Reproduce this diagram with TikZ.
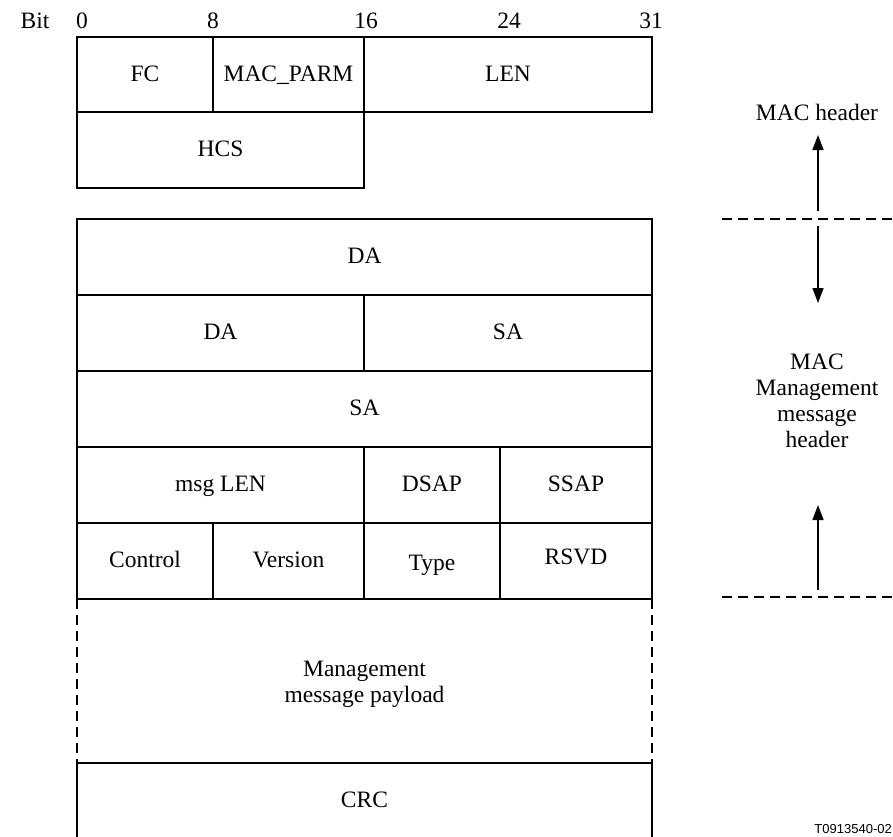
\documentclass[tikz,border=0pt]{standalone}
\usepackage{fontspec}
\setmainfont{Liberation Serif}
\newfontfamily\tagfont{Liberation Sans}
\usetikzlibrary{arrows.meta}
\begin{document}
\begin{tikzpicture}[x=1pt,y=-1pt,
  field/.style={draw, line width=1.5pt, inner sep=0pt, outer sep=0pt,
    text height=16pt, text depth=2.4pt,
    font=\fontsize{23.5}{26}\selectfont, align=center},
  lbl/.style={inner sep=0pt, font=\fontsize{23.5}{26}\selectfont, align=center},
  span/.style={-{Triangle[width=11pt,length=15pt]}, line width=1.5pt},
  sep/.style={dash pattern=on 10pt off 6pt, line width=1.5pt}]
\useasboundingbox (0,0) rectangle (893,836);
\clip (0,0) rectangle (893,836);

% bit ruler
\node[lbl] (bit) at (35,21) {Bit};
\node[lbl] (b0)  at (82,21) {0};
\node[lbl] (b8)  at (213,21) {8};
\node[lbl] (b16) at (366,21) {16};
\node[lbl] (b24) at (509,21) {24};
\node[lbl] (b31) at (651,21) {31};

% MAC header fields
\node[field, minimum width=136pt, minimum height=75pt] (fc)   at (145,74.5) {FC};
\node[field, minimum width=151pt, minimum height=75pt] (parm) at (288.5,74.5) {MAC\_PARM};
\node[field, minimum width=288pt, minimum height=75pt] (len)  at (508,74.5) {LEN};
\node[field, minimum width=287pt, minimum height=76pt] (hcs)  at (220.5,150) {HCS};

% management message header fields
\node[field, minimum width=575pt, minimum height=76pt] (da1) at (364.5,257) {DA};
\node[field, minimum width=287pt, minimum height=76pt] (da2) at (220.5,333) {DA};
\node[field, minimum width=288pt, minimum height=76pt] (sa1) at (508,333) {SA};
\node[field, minimum width=575pt, minimum height=76pt] (sa2) at (364.5,409) {SA};
\node[field, minimum width=287pt, minimum height=76pt] (mlen) at (220.5,485) {msg LEN};
\node[field, minimum width=136pt, minimum height=76pt] (dsap) at (432,485) {DSAP};
\node[field, minimum width=152pt, minimum height=76pt] (ssap) at (576,485) {SSAP};
\node[field, minimum width=136pt, minimum height=76pt] (ctrl) at (145,561) {Control};
\node[field, minimum width=151pt, minimum height=76pt] (ver)  at (288.5,561) {Version};
\node[field, minimum width=136pt, minimum height=76pt] (type) at (432,561) {\raisebox{-3pt}{Type}};
\node[field, minimum width=152pt, minimum height=76pt] (rsvd) at (576,561) {\raisebox{3pt}{RSVD}};

% payload of variable length, dashed sides
\node[lbl, minimum width=575pt, minimum height=164pt] (pay) at (364.5,681) {};
\node[lbl] (payt) at (364.5,684) {Management\\message payload};
\draw[sep] (pay.north west) -- (pay.south west);
\draw[sep] (pay.north east) -- (pay.south east);

% CRC
\node[field, minimum width=575pt, minimum height=150pt] (crc) at (364.5,838) {};
\node[lbl] (crct) at (364.5,800) {CRC};

% right-hand span markers
\node[lbl] (machdr) at (817,112) {MAC header};
\node[lbl] (mgmt) at (817,401) {MAC\\Management\\message\\header};
\coordinate (d1l) at (722,219);
\coordinate (d1r) at (893,219);
\coordinate (d2l) at (722,597);
\coordinate (d2r) at (893,597);
\draw[sep] (d1l) -- (d1r);
\draw[sep] (d2l) -- (d2r);
\coordinate (a1s) at (818,211);
\coordinate (a1e) at (818,135);
\coordinate (a2s) at (818,226);
\coordinate (a2e) at (818,303);
\coordinate (a3s) at (818,590);
\coordinate (a3e) at (818,505);
\draw[span] (a1s) -- (a1e);
\draw[span] (a2s) -- (a2e);
\draw[span] (a3s) -- (a3e);

\node[anchor=base east, inner sep=0pt, font=\tagfont\fontsize{13}{15}\selectfont] (tag) at (892,833) {T0913540-02};
\end{tikzpicture}
\end{document}
